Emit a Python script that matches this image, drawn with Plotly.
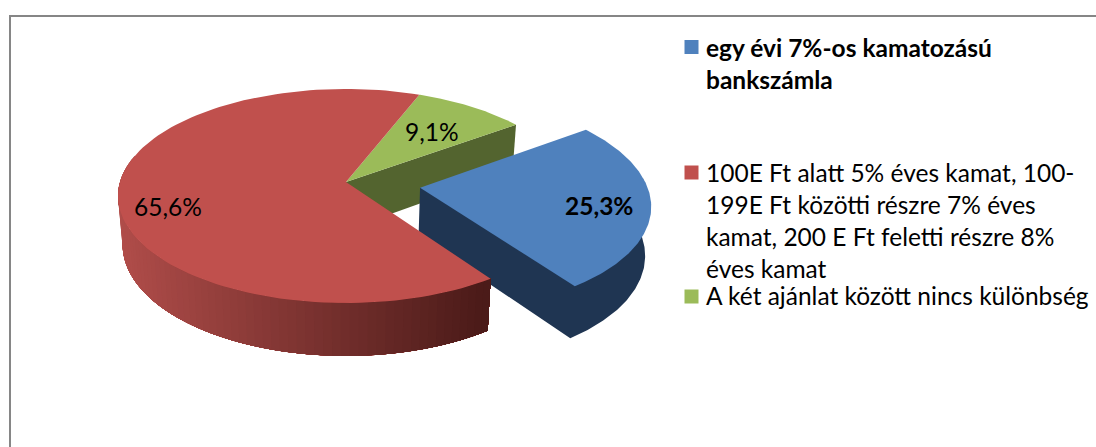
import numpy as np
import plotly.graph_objects as go

# ---- data ----
categories = [
    "egy évi 7%-os kamatozású bankszámla",
    "100E Ft alatt 5% éves kamat, 100-199E Ft közötti részre 7% éves kamat, 200 E Ft feletti részre 8% éves kamat",
    "A két ajánlat között nincs különbség",
]
values = [25.3, 65.6, 9.1]
legend_lines = [
    ["egy évi 7%-os kamatozású", "bankszámla"],
    ["100E Ft alatt 5% éves kamat, 100-", "199E Ft közötti részre 7% éves",
     "kamat, 200 E Ft feletti részre 8%", "éves kamat"],
    ["A két ajánlat között nincs különbség"],
]

# ---- style / layout ----
top_colors = ["#4F81BD", "#C0504D", "#9BBB59"]
wall_colors = ["#1F3552", None, "#53642F"]
grad_left, grad_right = np.array([0xB0, 0x4D, 0x4A]), np.array([0x4B, 0x1B, 0x19])
explode = [0.33, 0.0, 0.0]
first_angle = 54.1
W, H = 1096, 447
CX, CY = 346, 182
RX, RY, K = 226, 105.2, 0.131
DEPTH, BOTTOM_SCALE = 48, 0.98
FONT = "Lato"
label_xy = [(599, 205), (168, 206), (432, 131)]
label_bold = [True, False, False]
legend_x, legend_text_x = 691.5, 703.5
legend_marker_y = [47, 172.5, 296.5]
legend_line_y = [[47.5, 79.5], [172.5, 204.5, 236.5, 268.5], [295.5]]
legend_bold = [True, False, False]
FS = 24.5


def project(theta_deg, r, e, mid, bottom=False):
    t = np.radians(theta_deg)
    m = np.radians(mid)
    u = r * np.sin(t) + e * np.sin(m)
    v = -r * np.cos(t) - e * np.cos(m)
    w = 1 - K * v
    x, y = RX * u / w, RY * v / w
    if bottom:
        x, y = x * BOTTOM_SCALE, y * BOTTOM_SCALE + DEPTH / w
    return CX + x, CY + y


def poly(fig, x, y, color, lw=0.7):
    x = list(np.atleast_1d(x)); y = list(np.atleast_1d(y))
    fig.add_trace(go.Scatter(x=x + x[:1], y=y + y[:1], mode="lines", fill="toself",
                             fillcolor=color, line=dict(color=color, width=lw),
                             hoverinfo="skip", showlegend=False))


angles = np.cumsum([0] + values) * 3.6 + first_angle
spans = [(angles[i], angles[i + 1]) for i in range(len(values))]
mids = [(a + b) / 2 for a, b in spans]
fig = go.Figure()


def top_face(i):
    a, b = spans[i]
    th = np.linspace(a, b, 120)
    x, y = project(th, 1, explode[i], mids[i])
    ax, ay = project(a, 0, explode[i], mids[i])
    poly(fig, np.r_[ax, x], np.r_[ay, y], top_colors[i], lw=0)


def cut_wall(i, ang):
    e, m = explode[i], mids[i]
    pts = [project(0, 0, e, m), project(ang, 1, e, m),
           project(ang, 1, e, m, True), project(0, 0, e, m, True)]
    poly(fig, [p[0] for p in pts], [p[1] for p in pts], wall_colors[i], lw=0)


def solid_wall(i, start, color):
    # outer wall and radial cut wall as a single outline (the top face covers the rest), so no seam
    e, m = explode[i], mids[i]
    th = np.linspace(spans[i][1], start, 100)
    bx, by = project(th, 1, e, m, True)
    sx, sy = project(start, 1, e, m)
    ax, ay = project(0, 0, e, m)
    cx, cy = project(0, 0, e, m, True)
    poly(fig, np.r_[ax, cx, bx, sx], np.r_[ay, cy, by, sy], color, lw=0)


def shaded_wall(i, stop, n=70):
    # painter's order from the far end: each band also covers everything behind it, so no seams
    a = spans[i][0]
    e, m = explode[i], mids[i]
    edges = np.linspace(a, stop, n + 1)
    for s in edges[:-1][::-1]:
        th = np.linspace(a, s + (stop - a) / n, 120)
        x1, y1 = project(th, 1, e, m)
        x2, y2 = project(th[::-1], 1, e, m, True)
        xm = project(s, 1, e, m)[0]
        frac = np.clip((xm - 122) / (489 - 122), 0, 1)
        c = grad_left + (grad_right - grad_left) * frac
        poly(fig, np.r_[x1, x2], np.r_[y1, y2], "rgb(%d,%d,%d)" % tuple(c), lw=0)


# back to front: green, blue, red
cut_wall(2, spans[2][1])
top_face(2)
solid_wall(0, 85, wall_colors[0])
top_face(0)
shaded_wall(1, 285)
top_face(1)

# legend squares
fig.add_trace(go.Scatter(x=[legend_x] * 3, y=legend_marker_y, mode="markers",
                         marker=dict(symbol="square", size=14, color=top_colors, line=dict(width=0)),
                         hoverinfo="skip", showlegend=False))

ann = []
for (lx, ly), v, bold in zip(label_xy, values, label_bold):
    txt = f"{v:.1f}%".replace(".", ",")
    ann.append(dict(x=lx, y=ly, text=f"<b>{txt}</b>" if bold else txt, showarrow=False,
                    font=dict(family=FONT, size=FS, color="#000000")))
for lines, ys, bold in zip(legend_lines, legend_line_y, legend_bold):
    for t, yy in zip(lines, ys):
        ann.append(dict(x=legend_text_x, y=yy, xanchor="left", text=f"<b>{t}</b>" if bold else t,
                        showarrow=False, font=dict(family=FONT, size=FS, color="#000000")))

border = dict(color="#868686", width=2)
fig.update_layout(
    width=W, height=H, margin=dict(l=0, r=0, t=0, b=0),
    paper_bgcolor="white", plot_bgcolor="white", showlegend=False,
    xaxis=dict(range=[0, W], visible=False, fixedrange=True),
    yaxis=dict(range=[H, 0], visible=False, fixedrange=True),
    annotations=ann,
    shapes=[dict(type="line", x0=10, x1=W, y0=16, y1=16, line=border),
            dict(type="line", x0=10, x1=10, y0=15, y1=H, line=border)],
)
fig.write_html("out.html", post_script="document.body.style.margin='0';",
               config={"displayModeBar": False})
